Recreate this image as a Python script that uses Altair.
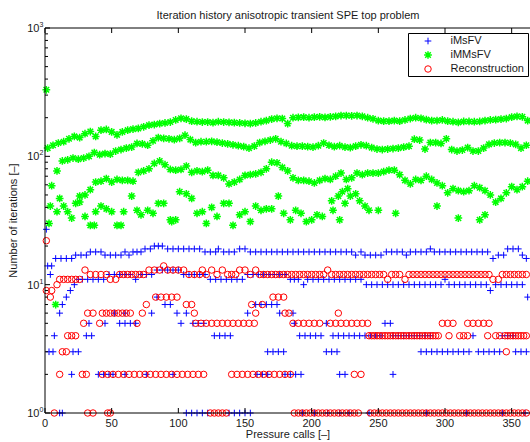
import altair as alt
import pandas as pd

# ---------------- data ----------------
# iMMsFV (green): four bands of iterations, one point every 4th pressure call
IMMSFV_BAND_STEP = 4
IMMSFV_BAND1_START = 2
IMMSFV_BAND1 = [116, 122, 127, 130, 137, 143, 140, 150, 156, 143, 160, 162, 155, 147, 155, 160,
                163, 165, 170, 175, 177, 180, 182, 185, 192, 198, 195, 188, 186, 185, 185, 183,
                186, 185, 184, 183, 182, 181, 180, 182, 186, 190, 195, 198, 197, 180, 200, 201,
                202, 200, 202, 203, 201, 203, 205, 208, 208, 207, 208, 205, 200, 196, 190, 188,
                188, 190, 188, 192, 197, 200, 198, 193, 190, 190, 192, 188, 186, 184, 187, 187,
                186, 187, 190, 192, 193, 195, 197, 202, 205, 203, 190]
IMMSFV_BAND2_START = 13
IMMSFV_BAND2 = [92, 94, 97, 95, 97, 100, 107, 103, 105, 104, 110, 113, 116, 118, 126, 125,
                122, 132, 140, 138, 137, 135, 138, 146, 135, 128, 130, 130, 131, 129, 127, 125,
                123, 121, 119, 116, 120, 128, 131, 134, 137, 130, 126, 121, 120, 120, 119, 118,
                121, 127, 122, 119, 121, 118, 117, 120, 123, 121, 117, 114, 113, 114, 115, 116,
                118, 120, 136, 134, 114, 128, 128, 126, 137, 113, 110, 112, 117, 110, 110, 116,
                124, 127, 128, 128, 127, 124, 116, 122]
IMMSFV_BAND3_START = 26
IMMSFV_BAND3 = [44, 50, 55, 63, 64, 67, 63, 66, 65, 65, 64, 75, 77, 80, 88, 92, 86, 79, 78, 79,
                84, 75, 77, 76, 78, 71, 71, 68, 61, 63, 66, 71, 72, 73, 75, 80, 90, 89, 82, 77,
                68, 65, 65, 64, 62, 65, 67, 66, 70, 74, 66, 68, 74, 72, 74, 74, 74, 76, 78, 78,
                72, 65, 61, 66, 65, 70, 66, 62, 59, 52, 56, 54, 53, 54, 59, 57, 54, 50, 44, 47,
                52, 58, 55, 58, 64]
IMMSFV_LOW_X = [3, 4, 9, 11, 14, 17, 20, 23, 26, 30, 34, 38, 42, 46, 50, 54, 59, 65, 69, 72,
                77, 81, 85, 89, 94, 98, 101, 106, 110, 114, 118, 121, 125, 129, 134, 138, 141, 146, 150, 154,
                158, 162, 166, 170, 175, 179, 184, 188, 192, 196, 200, 204, 208, 215, 216, 220, 221, 223, 225, 227,
                229, 233, 236, 240, 243, 250, 263, 294, 310, 326, 330,
                1, 8, 5, 9, 37, 57, 95]
IMMSFV_LOW_Y = [30, 41, 37, 47, 41, 37, 33, 43, 49, 34, 29, 37, 41, 39, 37, 29, 37, 49, 38, 35,
                38, 36, 43, 43, 32, 32, 53, 51, 47, 36, 37, 30, 40, 34, 43, 43, 29, 35, 37, 31,
                41, 38, 39, 39, 49, 36, 32, 38, 36, 31, 32, 35, 34, 45, 38, 49, 32, 53, 43, 56,
                49, 51, 45, 41, 38, 38, 36, 41, 33, 32, 35,
                330, 7, 59, 77, 29, 29, 31]

# iMsFV (blue) and Reconstruction (red): runs of equal iteration counts
# (first call, last call, iterations, call spacing)
IMSFV_RUNS = [
    (1, 1, 27, 1), (2, 2, 14, 1), (4, 4, 12, 1), (5, 5, 14, 1),
    (8, 20, 16, 4), (23, 31, 17, 4), (34, 42, 18, 4), (45, 57, 17, 4), (60, 60, 18, 1),
    (63, 63, 17, 1), (66, 72, 18, 3), (75, 79, 19, 4), (82, 88, 20, 3), (92, 116, 19, 4),
    (120, 128, 18, 4), (130, 130, 19, 1), (134, 142, 18, 4), (146, 150, 19, 4), (154, 230, 18, 4),
    (233, 233, 17, 1), (237, 237, 18, 1), (240, 252, 17, 4), (256, 268, 18, 4), (271, 271, 17, 1),
    (274, 286, 18, 4), (289, 289, 19, 1), (292, 332, 18, 4), (336, 336, 16, 1), (340, 344, 17, 4),
    (347, 355, 19, 4), (358, 358, 17, 1), (361, 361, 16, 1),
    (11, 11, 6, 1), (13, 13, 7, 1), (16, 16, 8, 1), (19, 19, 9, 1), (22, 22, 10, 1), (25, 25, 11, 1),
    (28, 44, 11, 4), (48, 48, 12, 1), (52, 64, 12, 4), (68, 68, 11, 1), (72, 80, 12, 4),
    (84, 100, 13, 4), (104, 120, 12, 4), (124, 148, 11, 4), (152, 180, 12, 4), (184, 190, 11, 3),
    (194, 194, 10, 1), (197, 237, 11, 4), (241, 297, 10, 4), (300, 300, 11, 1), (303, 331, 10, 4),
    (334, 334, 9, 1), (338, 358, 10, 4), (362, 362, 8, 1),
    (33, 33, 5, 1), (45, 45, 5, 1), (52, 52, 6, 1), (60, 60, 6, 1), (56, 68, 5, 4), (80, 80, 6, 1),
    (84, 84, 8, 1), (90, 94, 7, 4), (99, 99, 6, 1), (102, 102, 5, 1), (106, 106, 6, 1),
    (111, 119, 5, 4), (152, 152, 6, 1), (158, 174, 7, 4), (176, 176, 6, 1), (186, 186, 6, 1),
    (187, 187, 5, 1), (211, 211, 5, 1), (255, 259, 5, 4),
    (7, 7, 4, 1), (31, 35, 4, 4), (127, 139, 4, 4), (191, 207, 4, 4), (216, 236, 4, 4),
    (240, 252, 4, 4), (261, 291, 4, 4), (321, 321, 4, 1), (343, 351, 4, 4),
    (3, 3, 3, 1), (6, 6, 3, 1), (21, 25, 3, 4), (167, 179, 3, 4), (211, 219, 3, 4),
    (282, 318, 3, 4), (325, 341, 3, 4), (353, 361, 3, 4),
    (20, 20, 2, 1), (40, 48, 2, 4), (51, 51, 2, 1), (60, 60, 2, 1), (76, 76, 2, 1), (96, 96, 2, 1),
    (159, 167, 2, 4), (180, 192, 2, 4), (221, 225, 2, 4), (261, 261, 2, 1),
    (11, 13, 1, 2), (106, 122, 1, 4), (138, 154, 1, 4), (193, 193, 1, 1), (202, 202, 1, 1),
    (212, 212, 1, 1), (221, 221, 1, 1), (228, 228, 1, 1), (243, 243, 1, 1), (286, 286, 1, 1),
    (316, 316, 1, 1), (343, 343, 1, 1), (360, 360, 1, 1),
]
RECON_RUNS = [
    (1, 1, 22, 1), (1, 1, 9, 1), (4, 4, 8, 1), (5, 5, 9, 1), (9, 9, 10, 1), (11, 26, 11, 3),
    (30, 30, 13, 1), (34, 46, 12, 4), (49, 53, 11, 4), (56, 74, 12, 3), (78, 86, 13, 4),
    (89, 89, 14, 1), (92, 104, 13, 4), (108, 116, 12, 4), (118, 118, 13, 1), (121, 121, 12, 1),
    (125, 125, 13, 1), (129, 129, 12, 1), (133, 133, 13, 1), (137, 143, 12, 3), (146, 150, 13, 4),
    (154, 154, 12, 1), (158, 158, 13, 1), (161, 209, 12, 3), (212, 212, 13, 1), (215, 254, 12, 3),
    (257, 257, 11, 1), (260, 267, 12, 3), (270, 270, 11, 1), (273, 333, 12, 3), (336, 340, 11, 4),
    (343, 362, 12, 3),
    (83, 99, 8, 4), (171, 179, 8, 4), (76, 76, 7, 1), (106, 110, 7, 4), (155, 155, 7, 1),
    (163, 163, 7, 1), (32, 36, 6, 4), (43, 64, 6, 3), (73, 73, 6, 1), (112, 112, 6, 1),
    (158, 158, 6, 1), (180, 183, 6, 3), (220, 220, 6, 1),
    (29, 29, 5, 1), (41, 41, 5, 1), (69, 69, 5, 1), (113, 157, 5, 4), (186, 206, 5, 4),
    (214, 242, 5, 4), (298, 306, 5, 4), (317, 333, 5, 4),
    (17, 23, 4, 3), (243, 295, 4, 2), (303, 303, 4, 1), (311, 317, 4, 3), (332, 332, 4, 1),
    (338, 341, 4, 3), (345, 361, 4, 2),
    (13, 13, 3, 1), (16, 16, 3, 1), (346, 346, 3, 1),
    (11, 11, 2, 1), (28, 31, 2, 3), (43, 119, 2, 4), (140, 184, 2, 4), (232, 232, 2, 1),
    (237, 237, 2, 1),
    (7, 7, 1, 1), (32, 32, 1, 1), (36, 36, 1, 1), (47, 49, 1, 2), (124, 136, 1, 3),
    (187, 235, 1, 3), (244, 362, 1, 3),
]

X_TICKS = [0, 50, 100, 150, 200, 250, 300, 350]
Y_DECADES = [1, 10, 100, 1000]
Y_EXPONENTS = ["0", "1", "2", "3"]
Y_MINOR = [m * d for d in (1, 10, 100) for m in range(2, 10)]
LEGEND_LABELS = ["iMsFV", "iMMsFV", "Reconstruction"]
TITLE = "Iteration history anisotropic transient SPE top problem"
X_TITLE = "Pressure calls [–]"
Y_TITLE = "Number of iterations [–]"


def expand_runs(runs):
    xs, ys = [], []
    for first, last, value, spacing in runs:
        x = first
        while x <= last:
            xs.append(x)
            ys.append(value)
            x += spacing
    return xs, ys


def band(start, values):
    return [start + IMMSFV_BAND_STEP * i for i in range(len(values))], list(values)


bx, by = expand_runs(IMSFV_RUNS)
rx, ry = expand_runs(RECON_RUNS)
gx, gy = [], []
for s, vals in ((IMMSFV_BAND1_START, IMMSFV_BAND1), (IMMSFV_BAND2_START, IMMSFV_BAND2),
                (IMMSFV_BAND3_START, IMMSFV_BAND3)):
    xs_, ys_ = band(s, vals)
    gx += xs_
    gy += ys_
gx += IMMSFV_LOW_X
gy += IMMSFV_LOW_Y

blue_df = pd.DataFrame({"call": bx, "iters": by})
green_df = pd.DataFrame({"call": gx, "iters": gy})
red_df = pd.DataFrame({"call": rx, "iters": ry})

# ---------------- layout / style ----------------
W, H = 485, 385
FONT = "Liberation Sans"
INK = "#1a1a1a"
PLUS = "M-1,0L1,0M0,-1L0,1"
STAR = "M-1,0L1,0M0,-1L0,1M-0.72,-0.72L0.72,0.72M-0.72,0.72L0.72,-0.72"
BLUE, GREEN, RED = "#0000ff", "#00ff00", "#ff0000"

xs = alt.Scale(domain=[0, 363.75], nice=False, zero=False)
ys = alt.Scale(type="log", domain=[1, 1000], nice=False)


def pts(df, shape, color, size, sw):
    return alt.Chart(df).mark_point(shape=shape, filled=False, color=color, size=size,
                                    strokeWidth=sw, opacity=1).encode(
        x=alt.X("call:Q", scale=xs, axis=None),
        y=alt.Y("iters:Q", scale=ys, axis=None),
    )


blue = pts(blue_df, PLUS, BLUE, 44, 1)
green = pts(green_df, STAR, GREEN, 60, 1.5)
red = pts(red_df, "circle", RED, 42, 1)

# axes box (left, top, bottom)
frame_df = pd.DataFrame({"k": [0]})
left_line = alt.Chart(frame_df).mark_rule(color="black", strokeWidth=1).encode(
    x=alt.value(0), y=alt.value(0), y2=alt.value(H))
top_line = alt.Chart(frame_df).mark_rule(color="black", strokeWidth=1).encode(
    x=alt.value(0), x2=alt.value(W + 5), y=alt.value(0))
bottom_line = alt.Chart(frame_df).mark_rule(color="black", strokeWidth=1).encode(
    x=alt.value(0), x2=alt.value(W + 5), y=alt.value(H))

xt_df = pd.DataFrame({"t": X_TICKS, "lab": [str(t) for t in X_TICKS]})
xtick_bottom = alt.Chart(xt_df).mark_rule(color="black", strokeWidth=1).encode(
    x=alt.X("t:Q", scale=xs, axis=None), y=alt.value(H - 5), y2=alt.value(H))
xtick_top = alt.Chart(xt_df).mark_rule(color="black", strokeWidth=1).encode(
    x=alt.X("t:Q", scale=xs, axis=None), y=alt.value(0), y2=alt.value(5))
xtick_text = alt.Chart(xt_df).mark_text(font=FONT, fontSize=11, color=INK, align="center",
                                       baseline="alphabetic").encode(
    x=alt.X("t:Q", scale=xs, axis=None), y=alt.value(H + 13.5), text="lab:N")

yd_df = pd.DataFrame({"v": Y_DECADES, "exp": Y_EXPONENTS, "base": ["10"] * 4})
ym_df = pd.DataFrame({"v": Y_MINOR})
ytick_major = alt.Chart(yd_df).mark_rule(color="black", strokeWidth=1).encode(
    y=alt.Y("v:Q", scale=ys, axis=None), x=alt.value(0), x2=alt.value(5))
ytick_minor = alt.Chart(ym_df).mark_rule(color="black", strokeWidth=1).encode(
    y=alt.Y("v:Q", scale=ys, axis=None), x=alt.value(0), x2=alt.value(3))
ylab_base = alt.Chart(yd_df).mark_text(font=FONT, fontSize=11, color=INK, align="right",
                                      baseline="alphabetic", dy=4).encode(
    y=alt.Y("v:Q", scale=ys, axis=None), x=alt.value(-5.5), text="base:N")
ylab_exp = alt.Chart(yd_df).mark_text(font=FONT, fontSize=7, color=INK, align="left",
                                     baseline="alphabetic", dy=-1).encode(
    y=alt.Y("v:Q", scale=ys, axis=None), x=alt.value(-5.5), text="exp:N")

title = alt.Chart(frame_df).mark_text(font=FONT, fontSize=11, color=INK, align="center",
                                     baseline="alphabetic", text=TITLE).encode(
    x=alt.value(243), y=alt.value(-9))
x_title = alt.Chart(frame_df).mark_text(font=FONT, fontSize=11, color=INK, align="center",
                                       baseline="alphabetic", text=X_TITLE).encode(
    x=alt.value(243), y=alt.value(H + 25))
y_title = alt.Chart(frame_df).mark_text(font=FONT, fontSize=11, color=INK, align="center",
                                       baseline="middle", angle=270, text=Y_TITLE).encode(
    x=alt.value(-31), y=alt.value(H / 2))

# legend box
leg_df = pd.DataFrame({"label": LEGEND_LABELS, "row": [13, 27, 41]})
leg_box = alt.Chart(frame_df).mark_rect(fill="white", stroke="black", strokeWidth=1).encode(
    x=alt.value(363.5), x2=alt.value(483.5), y=alt.value(5.5), y2=alt.value(48.5))
leg_text = alt.Chart(leg_df).mark_text(font=FONT, fontSize=11, color=INK, align="left",
                                      baseline="middle").encode(
    x=alt.value(405.5), y=alt.Y("row:Q", scale=None), text="label:N")


def leg_marker(i, shape, color, size, sw):
    return alt.Chart(leg_df.iloc[[i]]).mark_point(shape=shape, filled=False, color=color,
                                                  size=size, strokeWidth=sw, opacity=1).encode(
        x=alt.value(383), y=alt.Y("row:Q", scale=None))


chart = alt.layer(
    blue, green, red,
    left_line, top_line, bottom_line,
    xtick_bottom, xtick_top, xtick_text,
    ytick_major, ytick_minor, ylab_base, ylab_exp,
    title, x_title, y_title,
    leg_box, leg_text,
    leg_marker(0, PLUS, BLUE, 44, 1),
    leg_marker(1, STAR, GREEN, 60, 1.5),
    leg_marker(2, "circle", RED, 42, 1),
).resolve_scale(y="independent").properties(
    width=W, height=H,
    autosize=alt.AutoSizeParams(type="none"),
    padding={"left": 45, "top": 28, "right": 0, "bottom": 29},
    background="white",
).configure_view(strokeWidth=0)

chart.save("out.html", embed_options={"renderer": "svg", "actions": False})
